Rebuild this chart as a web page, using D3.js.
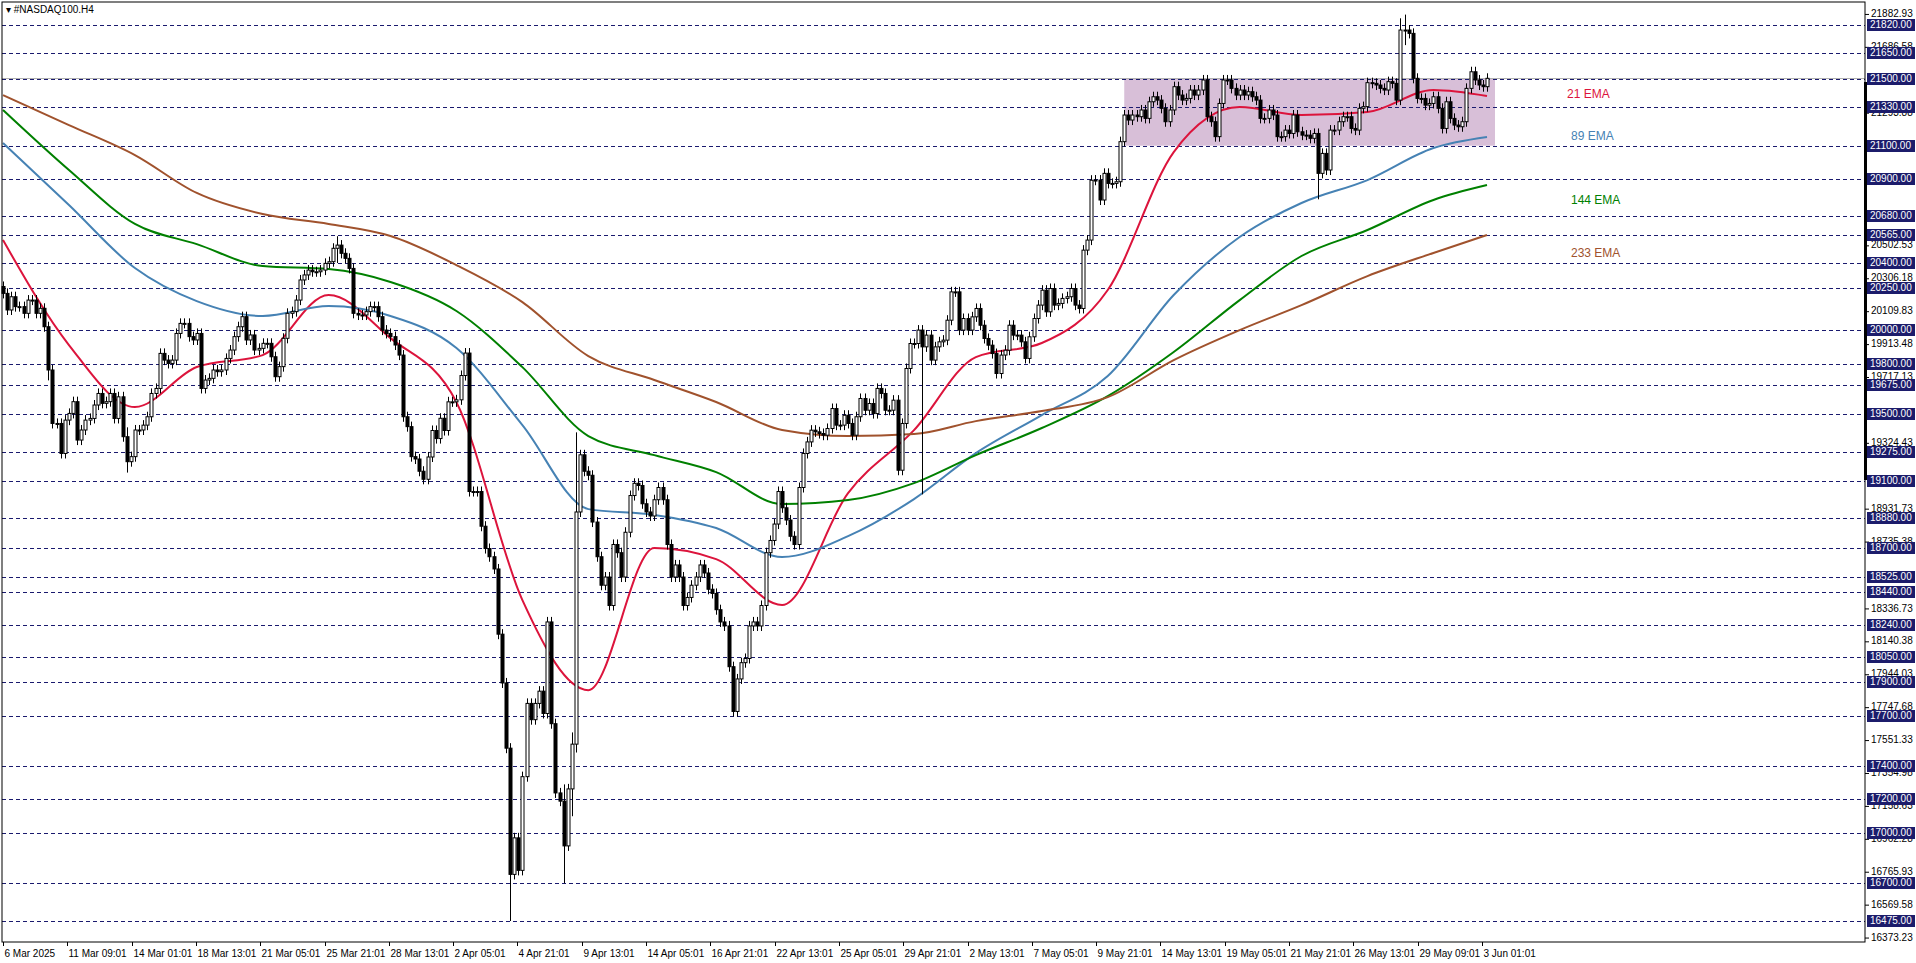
<!DOCTYPE html>
<html>
<head>
<meta charset="utf-8">
<script src="https://cdn.jsdelivr.net/npm/d3@7"></script>
<style>
  body { margin: 0; background: #fff; }
  svg text { font-family: "Liberation Sans", Arial, sans-serif; }
</style>
</head>
<body>
<div id="chart"></div>
<script>
// H4 closes (open = previous close)
const closes = [
  20219,20120,20199,20140,20140,20100,20179,20179,20100,20130,20020,19762,19443,19443,19264,19463,19503,19573,19344,19404,
  19463,19473,19553,19622,19563,19573,19622,19473,19602,19364,19215,19245,19404,19404,19433,19483,19622,19652,19861,19821,
  19801,19821,19980,20040,20040,19961,19941,19980,19652,19702,19712,19762,19752,19762,19831,19881,19961,20020,20080,19941,
  19971,19881,19891,19921,19921,19841,19722,19782,19951,20100,20110,20179,20299,20329,20358,20348,20348,20358,20398,20408,
  20488,20507,20458,20428,20368,20100,20090,20090,20110,20140,20140,20080,20000,19980,19961,19911,19851,19483,19424,19245,
  19231,19158,19110,19243,19401,19353,19474,19401,19572,19572,19584,19729,19863,19037,19037,19037,18830,18697,18648,18575,
  18186,17895,17506,16753,16971,16777,17336,17773,17676,17773,17846,17713,18259,17652,17239,17190,16923,17263,17530,18915,
  19256,19158,19134,18855,18648,18478,18527,18357,18721,18672,18527,18794,19013,19086,19073,18964,18915,18891,18988,19061,
  18988,18721,18527,18599,18527,18357,18405,18478,18527,18599,18551,18454,18429,18332,18259,18235,17992,17725,17919,18016,
  18041,18235,18259,18235,18357,18672,18745,18843,19037,18940,18867,18770,18721,19061,
  19264,19333,19403,19393,19383,19373,19413,19532,19433,19433,19492,19443,19373,19483,19592,19522,19562,19502,19652,19622,
  19522,19522,19582,19164,19443,19771,19920,19920,20000,19900,19970,19821,19900,19930,19940,20059,20228,20228,20000,20069,
  20000,20079,20129,20029,19950,19910,19860,19741,19851,19880,20029,19970,19970,19930,19831,19960,20069,20149,20238,20109,
  20248,20149,20159,20189,20199,20248,20149,20129,
  20477,20537,20894,
  20895,20776,20935,20875,20875,20885,21124,21283,21253,21283,21273,21313,21263,21362,21392,21372,21323,21243,21313,21452,
  21402,21372,21382,21432,21402,21432,21492,21273,21243,21154,21352,21492,21492,21442,21402,21432,21402,21422,21392,21372,
  21263,21263,21313,21283,21154,21154,21193,21173,21283,21183,21163,21163,21144,21173,20935,21054,20955,21193,21193,21243,
  21273,21273,21203,21193,21323,21333,21476,21472,21462,21442,21432,21482,21472,21372,21790,21790,21770,21502,21382,21382,
  21342,21352,21392,21323,21203,21362,21263,21223,21213,21243,21442,21541,21492,21462,21452,21502
];
const firstOpen = 20260;
const wick = 30;
// bars with long shadows: bar index, high, low
const spikeIdx  = [11, 30, 81, 123, 136, 138, 139, 177, 223, 319, 339, 340];
const spikeHigh = [20030, 19420, 20560, 17200, 17290, 17600, 19390, 17820, 19490, 21060, 21860, 21882];
const spikeLow  = [19700, 19150, 20400, 16475, 16700, 17100, 17480, 17700, 19020, 20780, 21360, 21700];

// moving averages read at every 16th bar
const emaBars = [0,16,32,47,63,79,94,110,126,142,158,173,189,205,221,236,252,268,284,300,315,331,347,360];
const ema21  = [20537,19911,19541,19780,19851,20209,19952,19570,18389,17852,18700,18634,18360,19028,19403,19839,19923,20239,21062,21331,21283,21301,21432,21396];
const ema89  = [21116,20746,20370,20173,20084,20143,20084,19893,19433,18932,18897,18819,18646,18771,18992,19266,19493,19726,20209,20555,20758,20895,21086,21152];
const ema144 = [21313,20955,20633,20513,20382,20364,20287,20114,19779,19368,19254,19153,18962,18986,19087,19254,19416,19606,19869,20179,20442,20597,20776,20865];
const ema233 = [21402,21223,21044,20818,20692,20633,20561,20388,20167,19845,19702,19571,19404,19368,19380,19457,19517,19600,19821,20000,20149,20322,20460,20567];

const levels = [21820,21650,21500,21330,21100,20900,20680,20565,20400,20250,20000,19800,19675,19500,19275,19100,18880,18700,18525,18440,18240,18050,17900,17700,17400,17200,17000,16700,16475];
const priceTicks = ["21882.93","21686.58","21293.88","20502.53","20306.18","20109.83","19913.48","19717.13","19324.43","18931.73","18735.38","18336.73","18140.38","17944.03","17747.68","17551.33","17354.98","17158.63","16962.28","16765.93","16569.58","16373.23"];
const dateLabels = ["6 Mar 2025","11 Mar 09:01","14 Mar 01:01","18 Mar 13:01","21 Mar 05:01","25 Mar 21:01","28 Mar 13:01","2 Apr 05:01","4 Apr 21:01","9 Apr 13:01","14 Apr 05:01","16 Apr 21:01","22 Apr 13:01","25 Apr 05:01","29 Apr 21:01","2 May 13:01","7 May 05:01","9 May 21:01","14 May 13:01","19 May 05:01","21 May 21:01","26 May 13:01","29 May 09:01","3 Jun 01:01"];
const emaNames = ["21 EMA","89 EMA","144 EMA","233 EMA"];
const emaColors = ["#dc143c","#4682b4","#008000","#a0522d"];
const zone = [21500, 21100];

const width = 1916, height = 963;
const plotL = 2, plotR = 1865, plotT = 2, plotB = 942;

const svg = d3.select("#chart").append("svg").attr("width", width).attr("height", height);

const y = d3.scaleLinear().domain([16475, 21820]).range([921, 25]);
const x = d3.scaleLinear().domain([0, closes.length - 1]).range([3, 1487]);
const xDate = d3.scalePoint().domain(dateLabels).range([3, 3 + 23 * 64.3]);

const bars = closes.map((c, i) => {
  const o = i === 0 ? firstOpen : closes[i - 1];
  let h = Math.max(o, c) + wick, l = Math.min(o, c) - wick;
  const k = spikeIdx.indexOf(i);
  if (k >= 0) { h = Math.max(h, spikeHigh[k]); l = Math.min(l, spikeLow[k]); }
  return { i, o, c, h, l };
});

// zone rectangle
const zoneStart = 272;
svg.append("rect")
  .attr("x", x(zoneStart)).attr("y", y(zone[0]))
  .attr("width", 1495 - x(zoneStart)).attr("height", y(zone[1]) - y(zone[0]))
  .attr("fill", "#d8bfd8");

// dashed levels
svg.selectAll(".lvl").data(levels).join("line")
  .attr("x1", plotL).attr("x2", plotR)
  .attr("y1", d => Math.round(y(d)) + 0.5).attr("y2", d => Math.round(y(d)) + 0.5)
  .attr("stroke", "#1a1a6e").attr("stroke-dasharray", "4,3");

svg.append("line").attr("x1", plotL).attr("x2", plotR)
  .attr("y1", Math.round(y(21500)) - 0.5).attr("y2", Math.round(y(21500)) - 0.5)
  .attr("stroke", "#b0b0b0");

// EMA lines
[ema21, ema89, ema144, ema233].forEach((vals, k) => {
  const line = d3.line().x((d, j) => x(emaBars[j])).y(d => y(d)).curve(d3.curveMonotoneX);
  svg.append("path").datum(vals).attr("d", line)
    .attr("fill", "none").attr("stroke", emaColors[k]).attr("stroke-width", 2);
});

// candles
const cw = 3;
const g = svg.append("g");
g.selectAll(".wick").data(bars).join("line")
  .attr("x1", d => Math.round(x(d.i)) + 0.5).attr("x2", d => Math.round(x(d.i)) + 0.5)
  .attr("y1", d => y(d.h)).attr("y2", d => y(d.l))
  .attr("stroke", "#000");
g.selectAll(".body").data(bars).join("rect")
  .attr("x", d => Math.round(x(d.i)) - 1)
  .attr("y", d => y(Math.max(d.o, d.c)))
  .attr("width", cw)
  .attr("height", d => Math.max(1, Math.abs(y(d.o) - y(d.c))))
  .attr("fill", d => d.c >= d.o ? "#fff" : "#000")
  .attr("stroke", "#000").attr("stroke-width", 1);

// EMA labels
emaNames.forEach((n, k) => {
  svg.append("text").attr("x", k === 0 ? 1567 : 1571).attr("y", [95, 137, 201, 254][k])
    .attr("dominant-baseline", "middle").attr("font-size", 12)
    .attr("fill", emaColors[k]).text(n);
});

// frame
svg.append("rect").attr("x", plotL).attr("y", plotT).attr("width", plotR - plotL).attr("height", plotB - plotT)
  .attr("fill", "none").attr("stroke", "#000");
svg.append("line").attr("x1", plotR + 0.5).attr("x2", plotR + 0.5).attr("y1", 82).attr("y2", 480)
  .attr("stroke", "#000").attr("stroke-width", 3);

// price ticks
const pt = svg.append("g");
priceTicks.forEach(t => {
  const yy = y(+t);
  pt.append("line").attr("x1", plotR).attr("x2", plotR + 4).attr("y1", yy).attr("y2", yy).attr("stroke", "#000");
  pt.append("text").attr("x", plotR + 6).attr("y", yy).attr("dominant-baseline", "middle")
    .attr("font-size", 10).attr("fill", "#000").text(t);
});
levels.forEach(v => {
  const yy = Math.round(y(v));
  pt.append("rect").attr("x", plotR + 2).attr("y", yy - 6).attr("width", 48).attr("height", 12).attr("fill", "#1c1c6b");
  pt.append("text").attr("x", plotR + 5).attr("y", yy + 0.5).attr("dominant-baseline", "middle")
    .attr("font-size", 10).attr("fill", "#fff").text(v.toFixed(2));
});

// date axis
dateLabels.forEach(d => {
  const xx = Math.round(xDate(d)) + 0.5;
  svg.append("line").attr("x1", xx).attr("x2", xx).attr("y1", plotB).attr("y2", plotB + 4).attr("stroke", "#000");
  svg.append("text").attr("x", xx + 1).attr("y", plotB + 12).attr("dominant-baseline", "middle")
    .attr("font-size", 10).attr("fill", "#000").text(d);
});

svg.append("text").attr("x", 6).attr("y", 10).attr("dominant-baseline", "middle")
  .attr("font-size", 10).attr("fill", "#000").text("▾ #NASDAQ100.H4");
</script>
</body>
</html>
